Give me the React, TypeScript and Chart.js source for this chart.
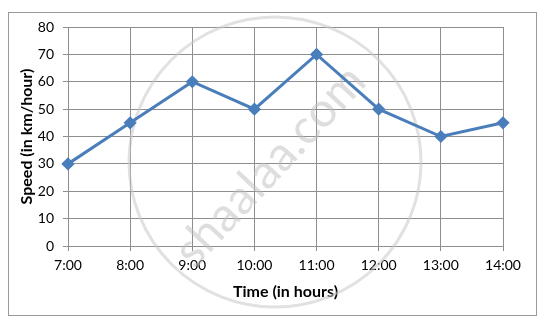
import React, { useEffect, useRef } from "react";
import { Chart, registerables } from "chart.js";

Chart.register(...registerables);

const categories = ["7:00", "8:00", "9:00", "10:00", "11:00", "12:00", "13:00", "14:00"];
const speeds = [30, 45, 60, 50, 70, 50, 40, 45];
const yTicks = [0, 10, 20, 30, 40, 50, 60, 70, 80];
const xTitle = "Time (in hours)";
const yTitle = "Speed (in km/hour)";
const watermark = "shaalaa.com";

const FONT = "Lato, 'Open Sans', sans-serif";
const GRID = "#8e8e8e";

const framePlugin = {
  id: "frame",
  beforeDraw(chart: any) {
    const ctx = chart.ctx;
    ctx.save();
    ctx.fillStyle = "#ffffff";
    ctx.fillRect(0, 0, chart.width, chart.height);
    ctx.strokeStyle = "#9a9a9a";
    ctx.lineWidth = 1;
    ctx.strokeRect(8.5, 12.5, 528, 303);
    ctx.restore();
  },
  beforeDatasetsDraw(chart: any) {
    const ctx = chart.ctx;
    ctx.save();
    ctx.strokeStyle = "rgba(200,200,200,0.55)";
    ctx.lineWidth = 3;
    ctx.beginPath();
    ctx.ellipse(275, 162, 146, 145, 0, 0, Math.PI * 2);
    ctx.stroke();
    ctx.translate(270, 166);
    ctx.rotate((-47 * Math.PI) / 180);
    ctx.fillStyle = "rgba(190,190,190,0.5)";
    ctx.font = `48px ${FONT}`;
    ctx.textAlign = "center";
    ctx.textBaseline = "middle";
    ctx.fillText(watermark, 0, 0);
    ctx.restore();
  },
};

export default function App() {
  const ref = useRef<HTMLCanvasElement>(null);
  useEffect(() => {
    if (!ref.current) return;
    const chart = new Chart(ref.current, {
      type: "line",
      data: {
        labels: categories,
        datasets: [
          {
            data: speeds,
            borderColor: "#4a7ebb",
            backgroundColor: "#4a7ebb",
            borderWidth: 3,
            pointStyle: "rectRot",
            pointRadius: 4.5,
            pointHoverRadius: 4.5,
            tension: 0,
            fill: false,
          },
        ],
      },
      plugins: [framePlugin],
      options: {
        animation: false,
        responsive: false,
        devicePixelRatio: 1,
        layout: { padding: { left: 0, right: 44, top: 27, bottom: 0 } },
        plugins: { legend: { display: false }, tooltip: { enabled: false } },
        scales: {
          x: {
            type: "category",
            offset: false,
            afterFit: (s: any) => {
              s.height = 80;
            },
            grid: { color: GRID, lineWidth: 1, tickLength: 5, drawTicks: true },
            border: { color: GRID },
            ticks: { color: "#000", font: { family: FONT, size: 14 }, padding: 6, maxRotation: 0 },
            title: {
              display: true,
              text: xTitle,
              color: "#000",
              font: { family: FONT, size: 16, weight: "bold" },
              padding: { top: 0, bottom: 25 },
            },
          },
          y: {
            min: 0,
            max: 80,
            afterFit: (s: any) => {
              s.width = 68;
            },
            afterBuildTicks: (s: any) => {
              s.ticks = yTicks.map((v) => ({ value: v }));
            },
            grid: { color: GRID, lineWidth: 1, tickLength: 5 },
            border: { color: GRID },
            ticks: { color: "#000", font: { family: FONT, size: 14 }, padding: 9 },
            title: {
              display: true,
              text: yTitle,
              color: "#000",
              font: { family: FONT, size: 16, weight: "bold" },
              padding: { top: 17, bottom: 0 },
            },
          },
        },
      },
    });
    return () => chart.destroy();
  }, []);
  return (
    <div style={{ position: "fixed", left: 0, top: 0, width: 547, height: 326 }}>
      <canvas ref={ref} width={547} height={326} style={{ width: 547, height: 326 }} />
    </div>
  );
}
